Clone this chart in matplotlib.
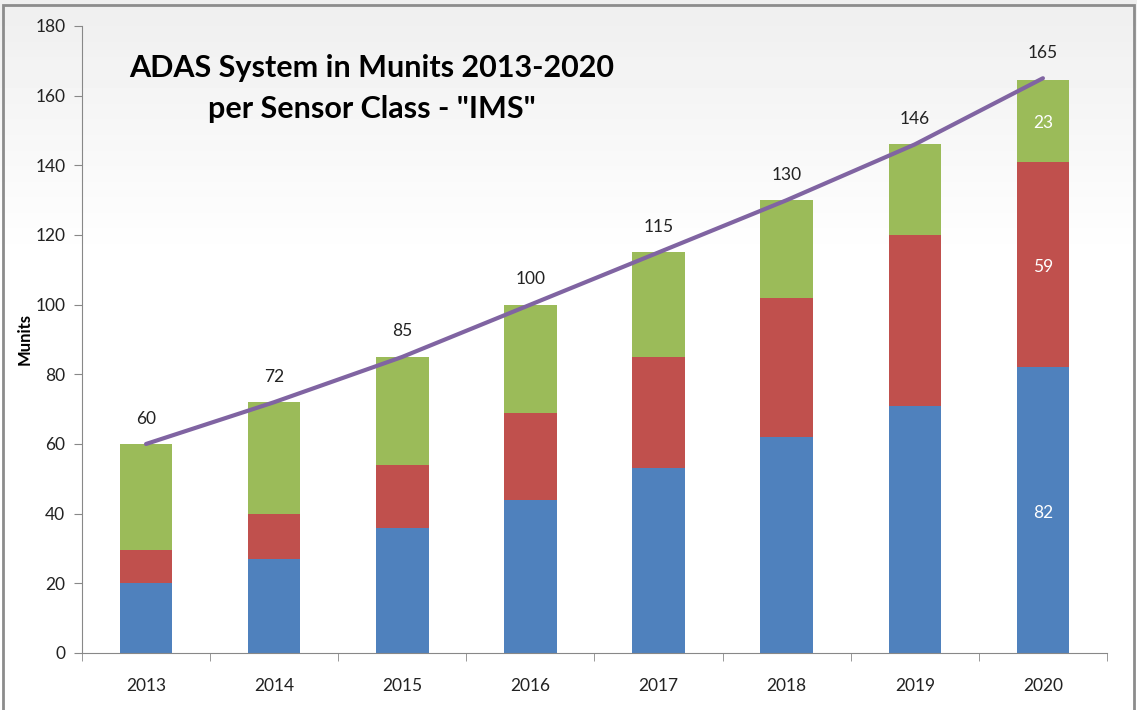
import numpy as np
import matplotlib.pyplot as plt
from matplotlib.patches import Rectangle

# data
years = ['2013', '2014', '2015', '2016', '2017', '2018', '2019', '2020']
blue_vals = [20, 27, 36, 44, 53, 62, 71, 82]
red_vals = [9.5, 13, 18, 25, 32, 40, 49, 59]
green_vals = [30.5, 32, 31, 31, 30, 28, 26, 23.5]
totals = [60, 72, 85, 100, 115, 130, 146, 165]
inside_labels = ['82', '59', '23']  # shown on the 2020 bar only (blue, red, green)

fnt = ['Lato', 'DejaVu Sans']

fig = plt.figure(figsize=(11.37, 7.10), dpi=100)

# gradient background for the whole figure
bg = fig.add_axes([0, 0, 1, 1], zorder=-10)
grad = np.ones((710, 1))
grad[:260, 0] = np.linspace(0.935, 1.0, 260)
bg.imshow(grad, cmap='gray', vmin=0, vmax=1, aspect='auto', extent=[0, 1, 0, 1])
bg.add_patch(Rectangle((0.003, -0.01), 0.994, 1.0035, transform=bg.transAxes,
                       fill=False, edgecolor='#8c8c8c', lw=2))
bg.set_axis_off()

ax = fig.add_axes([0.0721, 0.0803, 0.9015, 0.8831])
ax.patch.set_alpha(0)

x = np.arange(len(years))
w = 0.41
blue = np.array(blue_vals)
red = np.array(red_vals)
green = np.array(green_vals)
ax.bar(x, blue, w, color='#4F81BD', zorder=2)
ax.bar(x, red, w, bottom=blue, color='#C0504D', zorder=2)
ax.bar(x, green, w, bottom=blue + red, color='#9BBB59', zorder=2)

ax.plot(x, totals, color='#8064A2', lw=3, zorder=3, solid_capstyle='round')

for xi, t in zip(x, totals):
    ax.text(xi, t + 5, str(t), ha='center', va='bottom', fontsize=12.5,
            family=fnt, color='#222222')

# values inside the last bar
last = len(years) - 1
mids = [blue[last] / 2, blue[last] + red[last] / 2,
        blue[last] + red[last] + green[last] / 2]
for m, lab in zip(mids, inside_labels):
    ax.text(x[last], m - 0.7, lab, ha='center', va='center',
            fontsize=12.5, color='white', family=fnt)

ax.set_xlim(-0.5, len(years) - 0.5)
ax.set_ylim(0, 180)
ax.set_yticks(range(0, 181, 20))
ax.set_xticks(x)
ax.set_xticklabels(years)
ax.set_xticks(np.arange(-0.5, len(years)), minor=True)
ax.tick_params(axis='x', which='major', length=0, pad=18)
ax.tick_params(axis='x', which='minor', length=6, color='#888888')
ax.tick_params(axis='y', length=6, color='#888888', pad=6)
for lab in ax.get_xticklabels() + ax.get_yticklabels():
    lab.set_family(fnt)
    lab.set_fontsize(12.5)
    lab.set_color('#222222')

for s in ['top', 'right']:
    ax.spines[s].set_visible(False)
for s in ['left', 'bottom']:
    ax.spines[s].set_color('#888888')

ax.set_ylabel('Munits', fontsize=12, fontweight='bold', family=fnt, labelpad=2)

ax.text(0.283, 0.9, 'ADAS System in Munits 2013-2020\nper Sensor Class - "IMS"',
        transform=ax.transAxes, ha='center', va='center', fontsize=22,
        fontweight='bold', family=fnt, linespacing=1.55)

fig.savefig('out.png', dpi=100)
